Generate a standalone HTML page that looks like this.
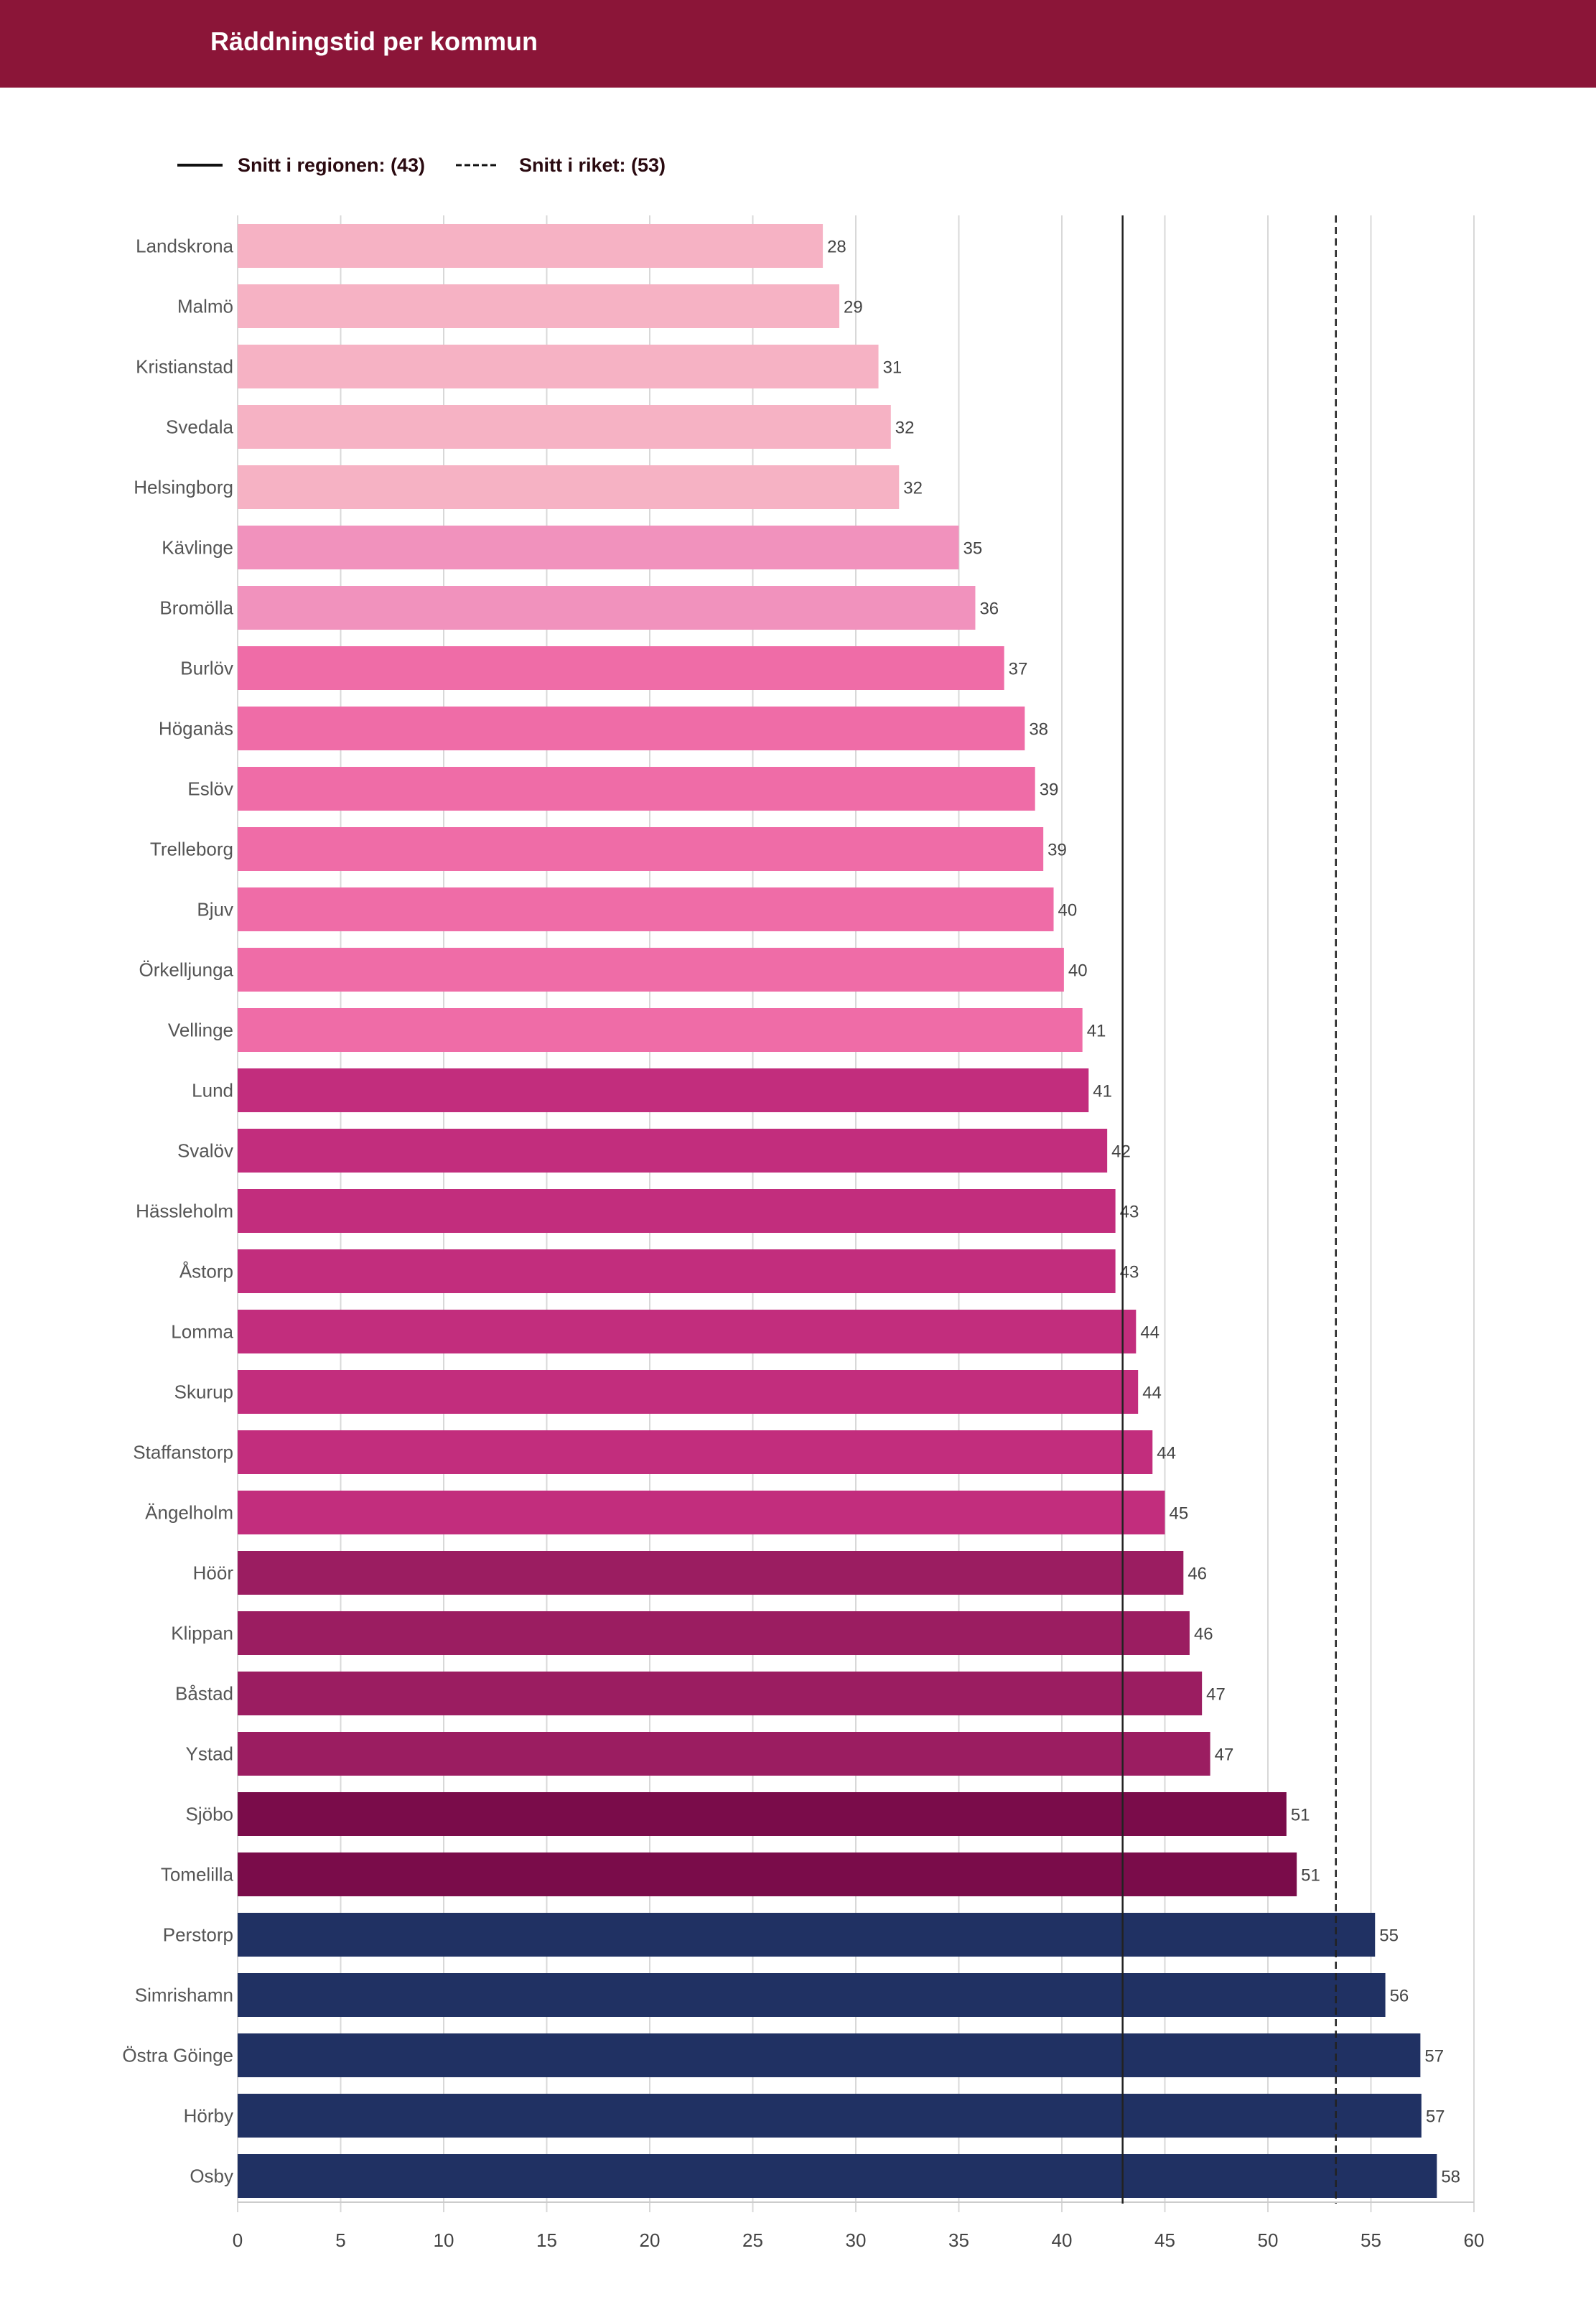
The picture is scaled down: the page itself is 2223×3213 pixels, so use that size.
<!DOCTYPE html>
<html><head><meta charset="utf-8"><style>
body{margin:0;background:#fff;}
svg{display:block;font-family:"Liberation Sans",sans-serif;}
</style></head><body>
<svg id="c" width="2223" height="3213" viewBox="0 0 2223 3213" xmlns="http://www.w3.org/2000/svg">
<rect x="0" y="0" width="2223" height="122" fill="#8B1538"/>
<text x="293" y="70" font-size="36" font-weight="bold" fill="#fff">Räddningstid per kommun</text>
<g>
<line x1="247" y1="230" x2="310" y2="230" stroke="#111" stroke-width="4"/>
<text x="331" y="239" font-size="27" font-weight="bold" fill="#2a0a10">Snitt i regionen: (43)</text>
<line x1="635" y1="230" x2="695" y2="230" stroke="#111" stroke-width="3" stroke-dasharray="8,4"/>
<text x="723" y="239" font-size="27" font-weight="bold" fill="#2a0a10">Snitt i riket: (53)</text>
</g>
<g id="plot"></g>
</svg>
<script>
const categories=["Landskrona","Malmö","Kristianstad","Svedala","Helsingborg","Kävlinge","Bromölla","Burlöv","Höganäs","Eslöv","Trelleborg","Bjuv","Örkelljunga","Vellinge","Lund","Svalöv","Hässleholm","Åstorp","Lomma","Skurup","Staffanstorp","Ängelholm","Höör","Klippan","Båstad","Ystad","Sjöbo","Tomelilla","Perstorp","Simrishamn","Östra Göinge","Hörby","Osby"];
const values=[28.4,29.2,31.1,31.7,32.1,35.0,35.8,37.2,38.2,38.7,39.1,39.6,40.1,41.0,41.3,42.2,42.6,42.6,43.6,43.7,44.4,45.0,45.9,46.2,46.8,47.2,50.9,51.4,55.2,55.7,57.4,57.45,58.2];
const groups=[0,0,0,0,0,1,1,2,2,2,2,2,2,2,3,3,3,3,3,3,3,3,4,4,4,4,5,5,6,6,6,6,6];
const groupColors=["#F6B2C4","#F192BD","#EF6CA7","#C22D7D","#9B1D61","#7A0C4A","#203163"];
const ticks=[0,5,10,15,20,25,30,35,40,45,50,55,60];
const regionAvg=42.95, nationalAvg=53.3;
(function(){
const NS="http://www.w3.org/2000/svg";
const g=document.getElementById('plot');
const x0=331,x1=2053,xmax=60,plotTop=300,plotBottom=3067,firstY=312,pitch=84,barH=61;
const sx=v=>x0+(x1-x0)*v/xmax;
const by=i=>firstY+i*pitch;
function mk(t,a){const e=document.createElementNS(NS,t);for(const k in a)e.setAttribute(k,a[k]);g.appendChild(e);return e;}
ticks.forEach(t=>{
  const l=mk('line',{x1:sx(t),x2:sx(t),y1:plotTop,y2:plotBottom+14,stroke:'#d8d8d8','stroke-width':2});
  
  
  const tx=mk('text',{x:sx(t),y:3129,'font-size':26,fill:'#444','text-anchor':'middle'});
  tx.textContent=t;
  
  
});
const ax=mk('line',{x1:x0,x2:x1,y1:plotBottom,y2:plotBottom,stroke:'#ccc','stroke-width':2});


categories.forEach((c,i)=>{
  const r=mk('rect',{x:x0,y:by(i),width:sx(values[i])-x0,height:barH,fill:groupColors[groups[i]]});
  
  
  const lb=mk('text',{x:325,y:by(i)+barH/2+9,'font-size':26,fill:'#555','text-anchor':'end'});
  lb.textContent=c;
  
  
  const vl=mk('text',{x:sx(values[i])+6,y:by(i)+barH/2+9,'font-size':24,fill:'#444'});
  vl.textContent=Math.round(values[i]);
  
  
});
const rl=mk('line',{x1:sx(regionAvg),x2:sx(regionAvg),y1:plotTop,y2:plotBottom+2,stroke:'#222','stroke-width':2.5});


const nl=mk('line',{x1:sx(nationalAvg),x2:sx(nationalAvg),y1:plotTop,y2:plotBottom+2,stroke:'#222','stroke-width':2.5,'stroke-dasharray':'10,6'});


})();
</script>
</body></html>
